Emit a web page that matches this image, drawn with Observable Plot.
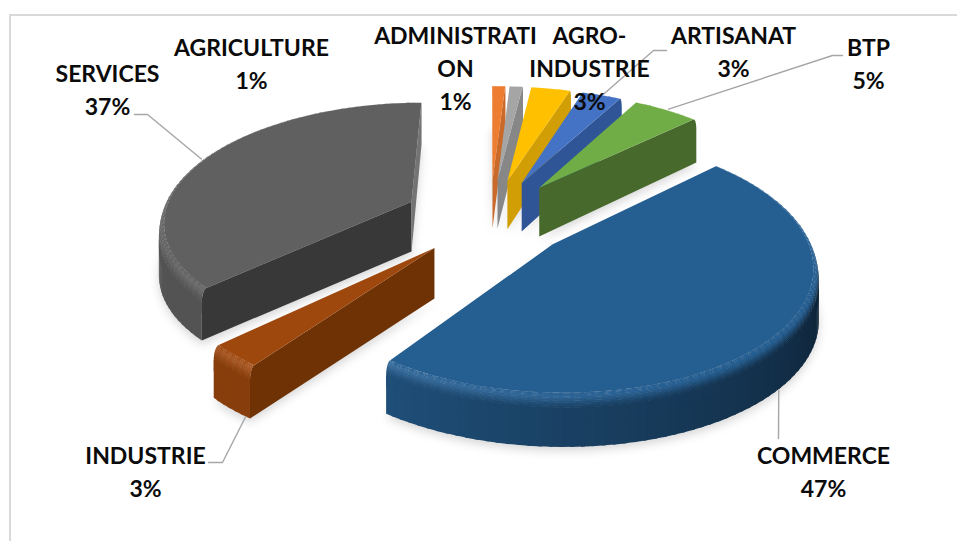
<!DOCTYPE html>
<html>
<head>
<meta charset="utf-8">
<script src="https://cdn.jsdelivr.net/npm/d3@7"></script>
<script src="https://cdn.jsdelivr.net/npm/@observablehq/plot@0.6"></script>
<style>
  html, body { margin: 0; padding: 0; background: #fff; }
  svg { display: block; }
</style>
</head>
<body>
<div id="chart"></div>
<script>
// Sector shares of activity, in percent, clockwise from twelve o'clock
const categories = ["ADMINISTRATION", "AGRICULTURE", "AGRO-INDUSTRIE", "ARTISANAT", "BTP", "COMMERCE", "INDUSTRIE", "SERVICES"];
const shares = [1, 1, 3, 3, 5, 47, 3, 37];
const labelNames = ["ADMINISTRATI\nON", "AGRICULTURE", "AGRO-\nINDUSTRIE", "ARTISANAT", "BTP", "COMMERCE", "INDUSTRIE", "SERVICES"];

const topColors = ["#ed7d31", "#a5a5a5", "#ffc000", "#4472c4", "#70ad47", "#255e91", "#9e480e", "#606060"];
const endCutColors = ["#c96a2a", "#878787", "#d29e06", "#2f5597", "#476a2c", "#1c4670", "#6e3205", "#747474"];
const startCutColors = ["#c96a2a", "#878787", "#d29e06", "#2f5597", "#476a2c", "#1c4670", "#6e3205", "#383838"];

// How far each slice is pulled out of the pie, in radii
const explode = [0.33, 0.33, 0.33, 0.33, 0.33, 0.32, 0.32, 0.345];

// Label anchors (top of first line) and leader elbows, in picture units
const labelX = [455, 251, 589, 733, 868, 823, 145, 107];
const labelTop = [20, 32, 20, 20, 32, 440, 440, 58];
const leaderElbows = [null, null, null, [[666, 50], [653, 50]], [[842, 55], [832, 55]], [[778, 438]], [[208, 462], [222, 462]], [[134, 114], [147, 114]]];
const leaderOnBase = [false, false, false, false, false, true, true, false];
const leaderAlong = [0.5, 0.5, 0.5, 0.5, 0.5, 0.5, 0.12, 0.5];

// Pie geometry: one unit is the pie radius
const cx = 490, cy = 218, unit = 253, tilt = 0.476, persp = 0.15;
const thickness = 0.2, bevel = 0.02, bevelDrop = 0.05;

const project = (X, Y, Z) => {
  const s = 1 / (1 + persp * Y);
  return [cx + unit * X * s, cy - unit * tilt * Y * s - unit * Z * Math.min(s, 1)];
};

const rad = (deg) => (deg * Math.PI) / 180;
const tint = (color, f) => {
  const c = d3.rgb(color);
  return f <= 1 ? d3.rgb(c.r * f, c.g * f, c.b * f).formatHex()
                : d3.interpolateRgb(color, "#fff")(f - 1);
};
const wallLight = (deg) => deg < 90 ? 0.33 : deg < 216 ? 0.33 + (0.5 * (deg - 90)) / 126 : 0.86;
const glint = (deg) => {
  const rise = Math.max(0, Math.min(1, (deg - 150) / 66));
  const fall = Math.max(0, Math.min(1, (270 - deg) / 54));
  return rise * fall * 0.1;
};
const shoelace = (pts) => d3.sum(pts, (p, i) => {
  const q = pts[(i + 1) % pts.length];
  return p[0] * q[1] - q[0] * p[1];
}) / 2;

// Angular extent of each slice, from the cumulative shares
const total = d3.sum(shares);
const running = d3.cumsum(shares);
const slices = categories.map((name, i) => {
  const a0 = ((running[i] - shares[i]) / total) * 360;
  const a1 = (running[i] / total) * 360;
  const mid = (a0 + a1) / 2;
  return { name, i, a0, a1, mid, ox: explode[i] * Math.sin(rad(mid)), oy: explode[i] * Math.cos(rad(mid)) };
});

const at = (sl, deg, r, z) => project(sl.ox + r * Math.sin(rad(deg)), sl.oy + r * Math.cos(rad(deg)), z);

// Rounded rim profile between the flat top and the outer wall, as [r, z, step]
const rimSteps = 12;
const rim = d3.range(rimSteps + 1).map((j) => {
  const p = (j / rimSteps) * Math.PI / 2;
  return [1 - bevel * (1 - Math.sin(p)), -bevelDrop * (1 - Math.cos(p)), j / rimSteps];
});
const profile = [...rim, [1, -thickness, 1]];

// Colour across the rim: a short rise to the highlight, then an eased fall to the wall
const rimColor = (top, deg, t) => {
  const high = tint(top, 1 + glint(deg));
  const wall = tint(top, wallLight(deg));
  const peak = 0.25;
  if (t < peak) return d3.interpolateRgb(top, high)(t / peak);
  const u = (t - peak) / (1 - peak);
  return d3.interpolateRgb(high, wall)(u * u * (3 - 2 * u));
};

const faces = [], shadow = [];
let faceId = 0;

// A face is an area between two polylines, each vertex pair on one row
const addFace = (line1, line2, color) => {
  const id = faceId++;
  line1.forEach((p, k) => {
    const q = line2[k];
    faces.push({ id, x1: p[0], y1: p[1], x2: q[0], y2: q[1], color });
  });
};

const paintOrder = [0, 1, 2, 3, 4, 7, 6, 5];
for (const idx of paintOrder) {
  const sl = slices[idx];
  const top = topColors[idx];
  const n = Math.max(2, Math.ceil((sl.a1 - sl.a0) / 2));
  const angles = d3.range(n + 1).map((k) => sl.a0 + ((sl.a1 - sl.a0) * k) / n);

  // Soft ground shadow of the base
  const base = angles.map((a) => at(sl, a, 1, -thickness - 0.015));
  const apexLow = at(sl, sl.a0, 0, -thickness - 0.015);
  base.forEach((p) => shadow.push({ id: idx, x1: p[0], y1: p[1], x2: apexLow[0], y2: apexLow[1] }));

  // Radial cut faces, kept only where they turn toward the viewer
  for (const [deg, sign, cut] of [[sl.a0, -1, startCutColors[idx]], [sl.a1, 1, endCutColors[idx]]]) {
    const outline = [at(sl, deg, 0, 0), ...profile.map(([r, z]) => at(sl, deg, r, z)), at(sl, deg, 0, -thickness)];
    if (Math.sign(shoelace(outline)) === sign) {
      const anchor = outline[outline.length - 1];
      addFace(outline, outline.map(() => anchor), cut);
    }
  }

  // Outer wall and rim, in small overlapping quads so the shading can vary
  // round the slice; bands are laid from the foot of the wall up to the top
  for (let j = profile.length - 2; j >= 0; j--) {
    for (let k = 0; k < n; k++) {
      const d0 = angles[k], d1 = Math.min(angles[k + 1] + 0.7, sl.a1), m = (angles[k] + angles[k + 1]) / 2;
      const [ra, za, ta] = profile[j], [rb, zb, tb] = profile[j + 1];
      const next = profile[j + 2] || profile[j + 1];
      const rc = rb + (next[0] - rb) * 0.3, zc = zb + (next[1] - zb) * 0.3;
      const quad = [at(sl, d0, ra, za), at(sl, d1, ra, za), at(sl, d1, rc, zc), at(sl, d0, rc, zc)];
      if (shoelace(quad) >= 0) continue;
      const color = j === profile.length - 2 ? tint(top, wallLight(m)) : rimColor(top, m, (ta + tb) / 2);
      addFace([quad[0], quad[1]], [quad[3], quad[2]], color);
    }
  }

  // Flat top, a fan round the slice's apex
  const apex = at(sl, sl.a0, 0, 0);
  const arc = angles.map((a) => at(sl, a, 1 - bevel, 0));
  addFace(arc, arc.map(() => apex), top);
}

// Leader lines run from the label elbow to a point on their slice
const leaders = [];
slices.forEach((sl) => {
  const elbow = leaderElbows[sl.i];
  if (!elbow) return;
  const deg = sl.a0 + (sl.a1 - sl.a0) * leaderAlong[sl.i];
  const end = at(sl, deg, 1, leaderOnBase[sl.i] ? -thickness : 0);
  [...elbow, end].forEach((p) => leaders.push({ id: sl.i, x: p[0], y: p[1] }));
});

const labels = slices.map((sl) => ({
  x: labelX[sl.i],
  y: labelTop[sl.i],
  text: `${labelNames[sl.i]}\n${shares[sl.i]}%`
}));

const plot = Plot.plot({
  width: 957,
  height: 541,
  margin: 0,
  x: { domain: [0, 957], range: [0, 957], axis: null },
  y: { domain: [0, 541], range: [0, 541], axis: null },
  color: { type: "identity" },
  marks: [
    // Chart frame, open to the right and below
    Plot.ruleX([9.5], { y1: 14, y2: 541, stroke: "#d9d9d9", strokeWidth: 2 }),
    Plot.ruleY([14.5], { x1: 9, x2: 957, stroke: "#d9d9d9", strokeWidth: 2 }),
    Plot.area(shadow, { x1: "x1", y1: "y1", x2: "x2", y2: "y2", z: "id", fill: "#000", fillOpacity: 0.16, imageFilter: "blur(5px)", curve: "linear" }),
    Plot.area(faces, { x1: "x1", y1: "y1", x2: "x2", y2: "y2", z: "id", fill: "color", imageFilter: "blur(0.5px)", curve: "linear" }),
    Plot.line(leaders, { x: "x", y: "y", z: "id", stroke: "#a6a6a6", strokeWidth: 1.4, curve: "linear" }),
    Plot.text(labels, {
      x: "x", y: "y", text: "text", lineAnchor: "top", textAnchor: "middle", lineHeight: 33 / 23,
      fontFamily: "Lato", fontWeight: 700, fontSize: 23, fill: "#0b0b0b"
    })
  ]
});
document.getElementById("chart").append(plot);
</script>
</body>
</html>
